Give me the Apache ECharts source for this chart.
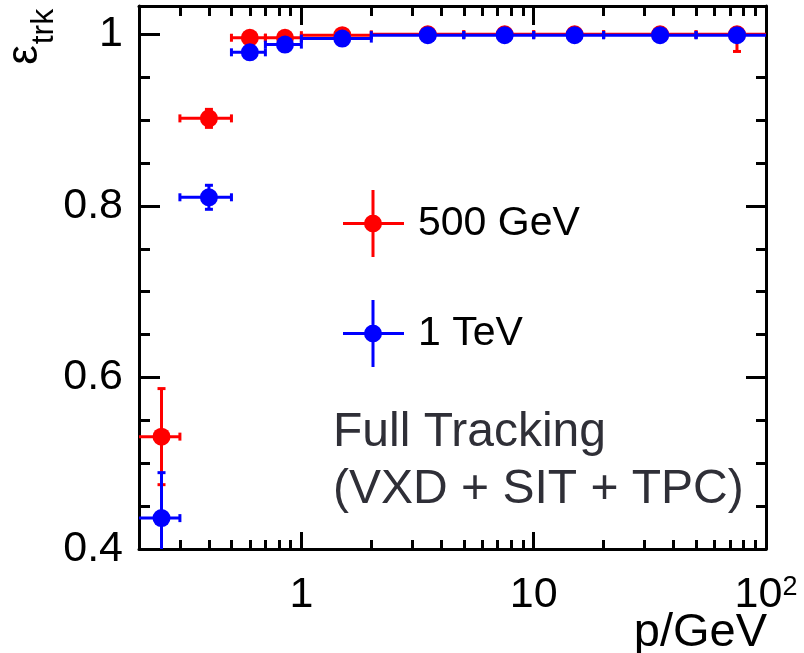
<!DOCTYPE html>
<html>
<head>
<meta charset="utf-8">
<script src="https://cdn.jsdelivr.net/npm/echarts@6/dist/echarts.min.js"></script>
<style>
html,body{margin:0;padding:0;background:#fff;}
#c{width:804px;height:653px;}
</style>
</head>
<body>
<div id="c"></div>
<script>
// ---- data ----
const pCenter = [0.25, 0.4, 0.6, 0.85, 1.5, 3.5, 7.5, 15, 35, 75];
const binLow  = [0.2, 0.3, 0.5, 0.7, 1, 2, 5, 10, 20, 50];
const binHigh = [0.3, 0.5, 0.7, 1, 2, 5, 10, 20, 50, 100];
const eff500 = [0.531, 0.902, 0.996, 0.996, 0.999, 1.0, 1.0, 1.0, 1.0, 1.0];
const err500 = [0.056, 0.0105, 0.003, 0.002, 0.001, 0.001, 0.001, 0.001, 0.001, 0.020];
const eff1TeV = [0.436, 0.810, 0.979, 0.988, 0.995, 0.999, 0.999, 0.999, 0.999, 0.999];
const err1TeV = [0.053, 0.014, 0.004, 0.003, 0.002, 0.001, 0.001, 0.001, 0.001, 0.002];
const seriesNames = ['500 GeV', '1 TeV'];
const seriesColors = ['#ff0000', '#0000ff'];
const xMajorTicks = [1, 10, 100];
const xMinorTicks = [0.3,0.4,0.5,0.6,0.7,0.8,0.9,2,3,4,5,6,7,8,9,20,30,40,50,60,70,80,90];
const yMajorTicks = [0.4, 0.6, 0.8, 1.0];
const yMinorTicks = [0.45,0.5,0.55,0.65,0.7,0.75,0.85,0.9,0.95,1.0];
const xMin = 0.2, xMax = 100, yMin = 0.4, yMax = 1.033;
const effCeiling = 1.0; // efficiency errors are bounded by 1

const FONT = "'Liberation Sans', Arial, Helvetica, sans-serif";
const lg = Math.log10;

function buildData(eff, err) {
  return pCenter.map((p, i) => [lg(p), eff[i], lg(binLow[i]), lg(binHigh[i]),
    Math.min(effCeiling, eff[i] + err[i]), eff[i] - err[i]]);
}

function renderItem(params, api) {
  const cs = params.coordSys;
  const X0 = cs.x, X1 = cs.x + cs.width, Y0 = cs.y, Y1 = cs.y + cs.height;
  const c = api.coord([api.value(0), api.value(1)]);
  const l = api.coord([api.value(2), api.value(1)])[0];
  const r = api.coord([api.value(3), api.value(1)])[0];
  const t = api.coord([api.value(0), api.value(4)])[1];
  const b = api.coord([api.value(0), api.value(5)])[1];
  const color = api.visual('color');
  const st = { stroke: color, lineWidth: 3, fill: null };
  const lc = Math.max(l, X0), rc = Math.min(r, X1), tc = Math.max(t, Y0), bc = Math.min(b, Y1);
  const cap = 4;
  const ch = [
    { type: 'line', shape: { x1: lc, y1: c[1], x2: rc, y2: c[1] }, style: st },
    { type: 'line', shape: { x1: c[0], y1: tc, x2: c[0], y2: bc }, style: st }
  ];
  if (l >= X0 + 2) ch.push({ type: 'line', shape: { x1: l, y1: c[1] - cap, x2: l, y2: c[1] + cap }, style: st });
  if (r <= X1 - 2) ch.push({ type: 'line', shape: { x1: r, y1: c[1] - cap, x2: r, y2: c[1] + cap }, style: st });
  if (t >= Y0 && t < c[1] - 1) ch.push({ type: 'line', shape: { x1: c[0] - cap, y1: t, x2: c[0] + cap, y2: t }, style: st });
  if (b <= Y1 && b > c[1] + 1) ch.push({ type: 'line', shape: { x1: c[0] - cap, y1: b, x2: c[0] + cap, y2: b }, style: st });
  ch.push({ type: 'circle', shape: { cx: c[0], cy: c[1], r: 9 }, style: { fill: color } });
  return { type: 'group', children: ch };
}

function xAxisCfg(pos, ticks, len, showLine, showLabel) {
  return {
    type: 'value', position: pos, min: lg(xMin), max: lg(xMax),
    axisLine: { show: showLine, onZero: false, lineStyle: { color: '#000', width: 3 } },
    axisTick: { show: true, inside: true, length: len, customValues: ticks.map(lg), lineStyle: { color: '#000', width: 3 } },
    axisLabel: showLabel ? {
      show: true, customValues: ticks.map(lg), margin: 25, color: '#000', fontSize: 43, fontFamily: FONT,
      formatter: function (v) {
        const p = Math.round(v);
        if (p === 0) return '1';
        if (p === 1) return '10';
        return '{b|10}{s|' + p + '}';
      },
      rich: {
        b: { fontSize: 43, fontFamily: FONT, color: '#000', lineHeight: 43, verticalAlign: 'top' },
        s: { fontSize: 27, fontFamily: FONT, color: '#000', lineHeight: 20, verticalAlign: 'top' }
      }
    } : { show: false },
    splitLine: { show: false }
  };
}
function yAxisCfg(pos, ticks, len, showLine, showLabel) {
  return {
    type: 'value', position: pos, min: yMin, max: yMax,
    axisLine: { show: showLine, onZero: false, lineStyle: { color: '#000', width: 3 } },
    axisTick: { show: true, inside: true, length: len, customValues: ticks, lineStyle: { color: '#000', width: 3 } },
    axisLabel: showLabel ? {
      show: true, customValues: ticks, margin: 16, color: '#000', fontSize: 43, fontFamily: FONT,
      formatter: v => (Math.abs(v - 1) < 1e-9 ? '1' : v.toFixed(1))
    } : { show: false },
    splitLine: { show: false }
  };
}

// error-bar cross with a filled dot (all sub-paths clockwise)
const legendIcon = 'path://M0 32 L61 32 L61 35 L0 35 Z M28.5 0 L31.5 0 L31.5 67 L28.5 67 Z M21 33.5 A9 9 0 0 1 39 33.5 A9 9 0 0 1 21 33.5 Z';

const option = {
  backgroundColor: '#fff',
  animation: false,
  grid: { left: 139, right: 38, top: 6, bottom: 104, containLabel: false },
  xAxis: [
    xAxisCfg('bottom', xMajorTicks, 17, true, true),
    xAxisCfg('bottom', xMinorTicks, 9, false, false),
    xAxisCfg('top', xMajorTicks, 19, true, false),
    xAxisCfg('top', xMinorTicks, 10, false, false)
  ],
  yAxis: [
    yAxisCfg('left', yMajorTicks, 21, true, true),
    yAxisCfg('left', yMinorTicks, 11, false, false),
    yAxisCfg('right', yMajorTicks, 20, true, false),
    yAxisCfg('right', yMinorTicks, 10, false, false)
  ],
  legend: {
    orient: 'vertical', left: 343, top: 190, itemGap: 43, itemWidth: 61, itemHeight: 67,
    padding: 0, selectedMode: false,
    textStyle: { fontSize: 41, fontFamily: FONT, color: '#000', padding: [0, 0, 0, 9] },
    data: seriesNames.map((n, i) => ({ name: n, icon: legendIcon,
      itemStyle: { color: seriesColors[i], borderWidth: 0, opacity: 1 } }))
  },
  series: seriesNames.map((n, i) => ({
    name: n, type: 'custom', renderItem: renderItem,
    data: i === 0 ? buildData(eff500, err500) : buildData(eff1TeV, err1TeV),
    encode: { x: 0, y: 1 }, itemStyle: { color: seriesColors[i] }, xAxisIndex: 0, yAxisIndex: 0
  })),
  graphic: [
    { type: 'text', x: 25, y: 55, rotation: Math.PI / 2,
      style: { text: 'ε', align: 'center', verticalAlign: 'middle', fontSize: 44, fontFamily: FONT, fill: '#000' } },
    { type: 'text', x: 44, y: 26.5, rotation: Math.PI / 2,
      style: { text: 'trk', align: 'center', verticalAlign: 'middle', fontSize: 32, fontFamily: FONT, fill: '#000' } },
    { type: 'text', x: 767, y: 610,
      style: { text: 'p/GeV', align: 'right', verticalAlign: 'top', fontSize: 47, fontFamily: FONT, fill: '#000' } },
    { type: 'text', x: 333, y: 409,
      style: { text: 'Full Tracking', align: 'left', verticalAlign: 'top', fontSize: 48, fontFamily: FONT, fill: '#2f2f37' } },
    { type: 'text', x: 333, y: 466,
      style: { text: '(VXD + SIT + TPC)', align: 'left', verticalAlign: 'top', fontSize: 48, fontFamily: FONT, fill: '#2f2f37' } }
  ]
};

const chart = echarts.init(document.getElementById('c'), null, { renderer: 'canvas' });
chart.setOption(option);
</script>
</body>
</html>
